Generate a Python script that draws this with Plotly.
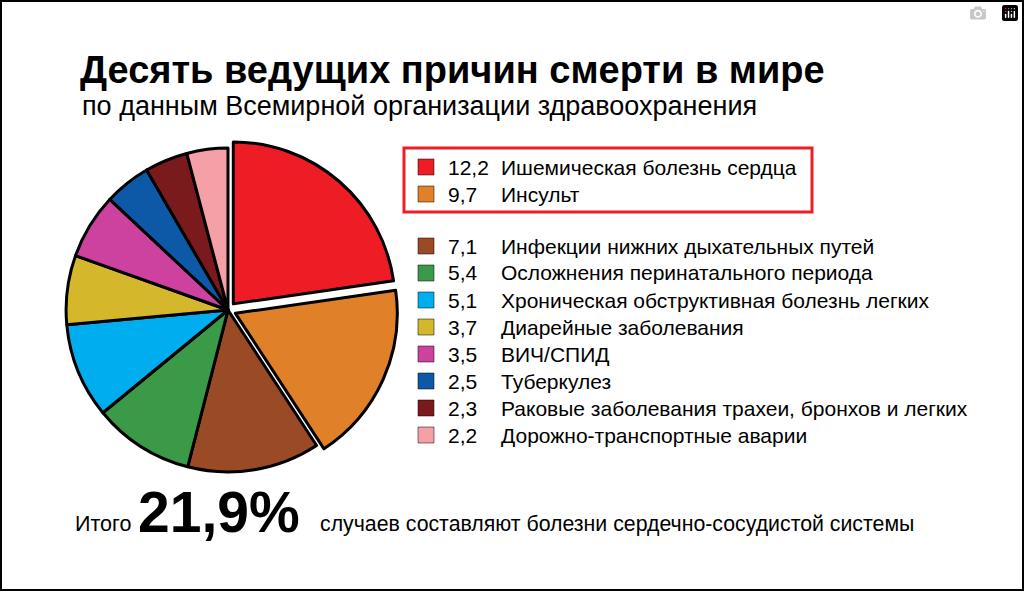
import plotly.graph_objects as go

values = [12.2, 9.7, 7.1, 5.4, 5.1, 3.7, 3.5, 2.5, 2.3, 2.2]
value_labels = ["12,2", "9,7", "7,1", "5,4", "5,1", "3,7", "3,5", "2,5", "2,3", "2,2"]
causes = ["Ишемическая болезнь сердца", "Инсульт", "Инфекции нижних дыхательных путей",
          "Осложнения перинатального периода", "Хроническая обструктивная болезнь легких",
          "Диарейные заболевания", "ВИЧ/СПИД", "Туберкулез",
          "Раковые заболевания трахеи, бронхов и легких", "Дорожно-транспортные аварии"]
colors = ["#ee1c24", "#e0812a", "#9b4a26", "#3a9a47", "#00aeef", "#d4b72a",
          "#cc429e", "#0d59a8", "#7a1a1c", "#f4a0a6"]
pulls = [0.05, 0.05, 0, 0, 0, 0, 0, 0, 0, 0]

W, H = 1024, 591
F = "Liberation Sans, Arial, sans-serif"
fig = go.Figure(go.Pie(
    values=values, labels=causes, sort=False, direction="clockwise", rotation=0,
    marker=dict(colors=colors, line=dict(color="black", width=3)),
    pull=pulls, textinfo="none", hoverinfo="label+value", showlegend=False,
    domain=dict(x=[(228 - 170) / W, (228 + 170) / W], y=[1 - (310 + 170) / H, 1 - (310 - 170) / H]),
))

shapes = [dict(type="rect", xref="paper", yref="paper", x0=1 / W, x1=1 - 1 / W, y0=1 / H, y1=1 - 1 / H,
               line=dict(color="black", width=2)),
          dict(type="rect", xref="paper", yref="paper", x0=404 / W, x1=812 / W,
               y0=1 - 212 / H, y1=1 - 148 / H, line=dict(color="#ee1c24", width=3))]
ann = []
rows_y = [167, 194, 246, 273, 300, 327, 354, 381, 408, 435]
for i, y in enumerate(rows_y):
    shapes.append(dict(type="rect", xref="paper", yref="paper", x0=418 / W, x1=434 / W,
                       y0=1 - (y + 8) / H, y1=1 - (y - 8) / H, fillcolor=colors[i],
                       line=dict(color="black", width=0.5)))
    ann.append(dict(x=446 / W, y=1 - y / H, text=value_labels[i], showarrow=False, xanchor="left",
                    yanchor="middle", font=dict(size=21, color="black", family=F)))
    ann.append(dict(x=499 / W, y=1 - y / H, text=causes[i], showarrow=False, xanchor="left",
                    yanchor="middle", font=dict(size=21, color="black", family=F)))

ann += [
    dict(x=78 / W, y=1 - 70 / H, text="<b>Десять ведущих причин смерти в мире</b>", showarrow=False,
         xanchor="left", yanchor="middle", font=dict(size=38, color="black", family=F)),
    dict(x=80 / W, y=1 - 106 / H, text="по данным Всемирной организации здравоохранения", showarrow=False,
         xanchor="left", yanchor="middle", font=dict(size=27, color="black", family=F)),
    dict(x=73 / W, y=1 - 524 / H, text="Итого", showarrow=False, xanchor="left", yanchor="middle",
         font=dict(size=21.5, color="black", family=F)),
    dict(x=136 / W, y=1 - 512 / H, text="<b>21,9%</b>", showarrow=False, xanchor="left", yanchor="middle",
         font=dict(size=57, color="black", family=F)),
    dict(x=318 / W, y=1 - 524 / H, text="случаев составляют болезни сердечно-сосудистой системы",
         showarrow=False, xanchor="left", yanchor="middle", font=dict(size=21.3, color="black", family=F)),
]

fig.update_layout(width=W, height=H, margin=dict(l=0, r=0, t=0, b=0), paper_bgcolor="white",
                  shapes=shapes, annotations=ann)
fig.write_html("out.html", post_script="document.body.style.margin='0';document.body.style.overflow='hidden';")
